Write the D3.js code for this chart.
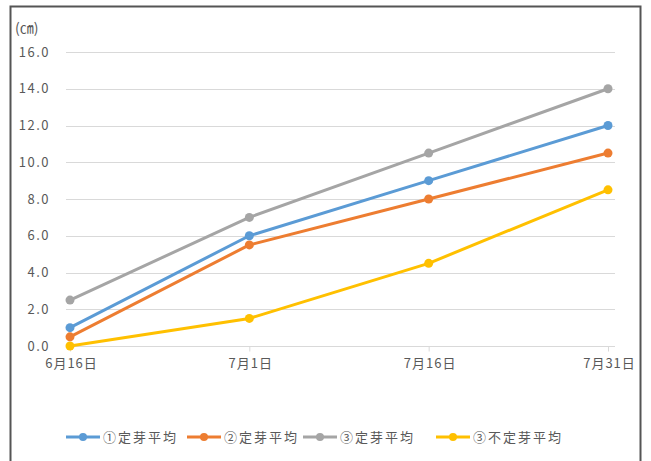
<!DOCTYPE html>
<html>
<head>
<meta charset="utf-8">
<script src="https://cdn.jsdelivr.net/npm/d3@7"></script>
<style>
  body { margin: 0; background: #fff; }
  text { font-family: "Noto Sans CJK JP", "Noto Sans", sans-serif; fill: #595959; }
</style>
</head>
<body>
<div id="chart"></div>
<script>
// chart data
const categories = ['6月16日', '7月1日', '7月16日', '7月31日'];
const seriesNames = ['①定芽平均', '②定芽平均', '③定芽平均', '③不定芽平均'];
const seriesColors = ['#5B9BD5', '#ED7D31', '#A5A5A5', '#FFC000'];
const series1 = [1.0, 6.0, 9.0, 12.0];
const series2 = [0.5, 5.5, 8.0, 10.5];
const series3 = [2.5, 7.0, 10.5, 14.0];
const series4 = [0.0, 1.5, 4.5, 8.5];
const yTicks = [0, 2, 4, 6, 8, 10, 12, 14, 16];

const allSeries = [series1, series2, series3, series4];

const width = 651, height = 461;

const svg = d3.select('#chart')
  .append('svg')
  .attr('width', width)
  .attr('height', height);

// outer frame
svg.append('rect')
  .attr('x', 10.5).attr('y', 6.5)
  .attr('width', 630).attr('height', 470)
  .attr('fill', '#fff')
  .attr('stroke', '#555')
  .attr('stroke-width', 2);

const x = d3.scalePoint().domain(categories).range([70, 608]);
const y = d3.scaleLinear().domain([0, 16]).range([346, 52]);

// gridlines
svg.append('g')
  .selectAll('line')
  .data(yTicks)
  .join('line')
  .attr('x1', 66).attr('x2', 615)
  .attr('y1', d => Math.round(y(d)) + 0.5)
  .attr('y2', d => Math.round(y(d)) + 0.5)
  .attr('stroke', '#d9d9d9')
  .attr('stroke-width', 1);

// y labels
svg.append('g')
  .selectAll('text')
  .data(yTicks)
  .join('text')
  .attr('x', 50)
  .attr('y', d => y(d) + 4.5)
  .attr('text-anchor', 'end')
  .attr('font-size', 13)
  .attr('letter-spacing', 1.5)
  .text(d => d.toFixed(1));

svg.append('text')
  .attr('x', 15).attr('y', 33)
  .attr('font-size', 14)
  .text('(㎝)');

// x axis
const xAxis = svg.append('g')
  .attr('transform', 'translate(0,346.5)')
  .call(d3.axisBottom(x).tickSize(5).tickPadding(7));
xAxis.select('.domain').attr('stroke', '#d9d9d9').attr('d', 'M66,0H615');
xAxis.selectAll('.tick line').attr('stroke', '#d9d9d9');
xAxis.selectAll('.tick text')
  .attr('font-size', 13)
  .attr('letter-spacing', 1)
  .attr('dx', 1)
  .attr('fill', '#595959')
  .style('font-family', '"Noto Sans CJK JP", sans-serif');

// lines and markers
const line = d3.line()
  .x((d, i) => x(categories[i]))
  .y(d => y(d));

const drawOrder = [3, 1, 0, 2];
drawOrder.forEach(si => {
  const g = svg.append('g');
  g.append('path')
    .datum(allSeries[si])
    .attr('d', line)
    .attr('fill', 'none')
    .attr('stroke', seriesColors[si])
    .attr('stroke-width', 3)
    .attr('stroke-linejoin', 'round');
  g.selectAll('circle')
    .data(allSeries[si])
    .join('circle')
    .attr('cx', (d, i) => x(categories[i]))
    .attr('cy', d => y(d))
    .attr('r', 4.5)
    .attr('fill', seriesColors[si]);
});

// legend
const legendX = [66, 187, 303, 436];
const legend = svg.append('g')
  .selectAll('g')
  .data(seriesNames)
  .join('g')
  .attr('transform', (d, i) => `translate(${legendX[i]},437)`);

legend.append('line')
  .attr('x1', 0).attr('x2', 34)
  .attr('stroke', (d, i) => seriesColors[i])
  .attr('stroke-width', 3);
legend.append('circle')
  .attr('cx', 17).attr('r', 4)
  .attr('fill', (d, i) => seriesColors[i]);
legend.append('text')
  .attr('x', 37).attr('y', 5)
  .attr('font-size', 13)
  .attr('letter-spacing', 2)
  .attr('fill', '#666')
  .text(d => d);
</script>
</body>
</html>
